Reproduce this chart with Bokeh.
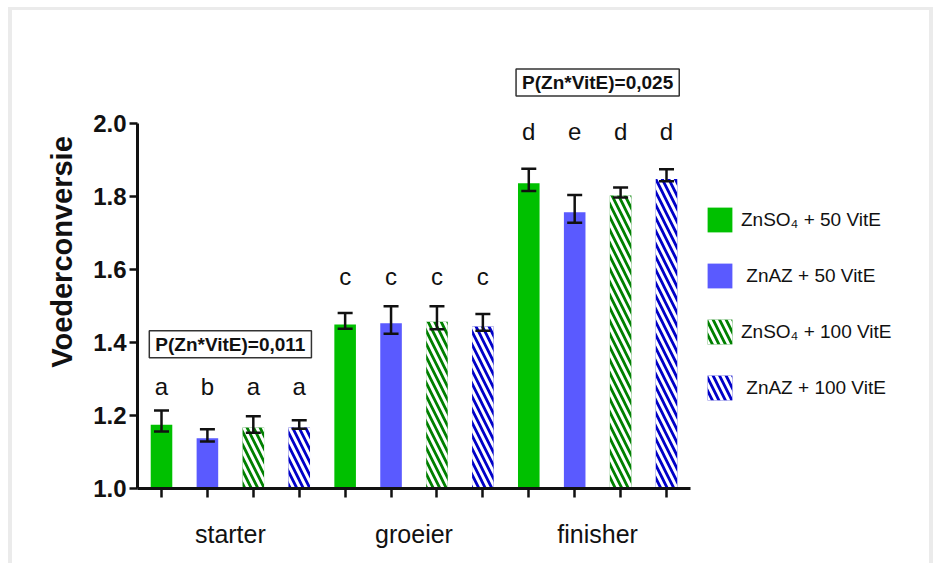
from bokeh.plotting import figure
from bokeh.models import (ColumnDataSource, FixedTicker, Whisker, TeeHead, Legend,
                          LegendItem, Label, Range1d, PrintfTickFormatter)
from bokeh.core.properties import value
from bokeh.embed import file_html
from bokeh.resources import INLINE

# ---------------- data ----------------
stages = ["starter", "groeier", "finisher"]
treatments = ["ZnSO\u2084 + 50 VitE", " ZnAZ + 50 VitE", "ZnSO\u2084 + 100 VitE", " ZnAZ + 100 VitE"]

mean_znso4_50 = [1.175, 1.449, 1.836]
mean_znaz_50 = [1.138, 1.453, 1.757]
mean_znso4_100 = [1.167, 1.457, 1.803]
mean_znaz_100 = [1.167, 1.444, 1.848]

upper_znso4_50 = [1.214, 1.481, 1.876]
upper_znaz_50 = [1.162, 1.499, 1.804]
upper_znso4_100 = [1.198, 1.499, 1.825]
upper_znaz_100 = [1.187, 1.478, 1.875]

lower_znso4_50 = [1.156, 1.438, 1.815]
lower_znaz_50 = [1.129, 1.424, 1.728]
lower_znso4_100 = [1.153, 1.436, 1.797]
lower_znaz_100 = [1.164, 1.432, 1.842]

letters_znso4_50 = ["a", "c", "d"]
letters_znaz_50 = ["b", "c", "e"]
letters_znso4_100 = ["a", "c", "d"]
letters_znaz_100 = ["a", "c", "d"]

p_interaction = ["P(Zn*VitE)=0,011", "P(Zn*VitE)=0,025"]

y_ticks = [1.0, 1.2, 1.4, 1.6, 1.8, 2.0]

# ---------------- assembly ----------------
means = [mean_znso4_50, mean_znaz_50, mean_znso4_100, mean_znaz_100]
uppers = [upper_znso4_50, upper_znaz_50, upper_znso4_100, upper_znaz_100]
lowers = [lower_znso4_50, lower_znaz_50, lower_znso4_100, lower_znaz_100]
letters = [letters_znso4_50, letters_znaz_50, letters_znso4_100, letters_znaz_100]

n_t = len(treatments)
n_s = len(stages)

FONT = "Liberation Sans"
PX = 45.91          # px per category slot
x0 = -24 / PX
x1 = x0 + 788 / PX
y1 = 1.0 + 473 / 365.0

p = figure(width=934, height=563, x_range=Range1d(x0, x1), y_range=Range1d(1.0, y1),
           output_backend="svg", toolbar_location=None,
           min_border_left=137, min_border_right=9, min_border_top=15, min_border_bottom=75)
p.xgrid.visible = False
p.ygrid.visible = False
p.outline_line_color = None
p.border_fill_color = None
p.background_fill_color = "white"
g = "linear-gradient(#EBEBEB,#EBEBEB)"
p.styles = {"background": f"{g} 8px 7px / 925px 3px no-repeat, "
                          f"{g} 8px 7px / 4px 556px no-repeat, "
                          f"{g} 929px 7px / 4px 556px no-repeat, white"}

styles = [
    dict(fill_color="#00C000"),
    dict(fill_color="#5A5AFF"),
    dict(fill_color="#008000", hatch_pattern="\\", hatch_color="white", hatch_weight=3, hatch_scale=13),
    dict(fill_color="#0000C8", hatch_pattern="\\", hatch_color="white", hatch_weight=3, hatch_scale=13),
]

renderers = []
wx, wu, wl = [], [], []
lx, ly, lt = [], [], []
group_max = [max(uppers[t][s] for t in range(n_t)) for s in range(n_s)]
for t in range(n_t):
    xs = [n_t * s + t for s in range(n_s)]
    src = ColumnDataSource(dict(x=xs, top=means[t]))
    r = p.vbar(x="x", top="top", bottom=1.0, width=0.47, line_color=None, source=src, **styles[t])
    renderers.append(r)
    wx += xs
    wu += uppers[t]
    wl += lowers[t]
    lx += xs
    ly += [group_max[s] * 1.055 for s in range(n_s)]
    lt += letters[t]

wsrc = ColumnDataSource(dict(x=wx, upper=wu, lower=wl))
whisk = Whisker(source=wsrc, base="x", upper="upper", lower="lower", line_width=2.5,
                line_color="#111111", level="overlay",
                upper_head=TeeHead(size=15, line_width=2.5, line_color="#111111"),
                lower_head=TeeHead(size=15, line_width=2.5, line_color="#111111"))
p.add_layout(whisk)

lsrc = ColumnDataSource(dict(x=lx, y=ly, text=lt))
p.text(x="x", y="y", text="text", source=lsrc, text_font=value(FONT), text_font_size="24px",
       text_align="center", text_baseline="alphabetic", text_color="#111111")

# interaction P-value boxes
box_pos = [(0, 1.395), (2, 2.112)]
for txt, (s, yy) in zip(p_interaction, box_pos):
    cx = n_t * s + (n_t - 1) / 2
    lab = Label(x=cx, y=yy, text=txt, text_font=FONT, text_font_size="19px", text_font_style="bold",
                text_align="center", text_baseline="middle", text_color="#111111",
                border_line_color="#333333", border_line_width=1.5,
                background_fill_color="white",
                padding=dict(left=6, right=6, top=3, bottom=3))
    p.add_layout(lab)

# y axis
ya = p.yaxis[0]
ya.ticker = FixedTicker(ticks=y_ticks, minor_ticks=[])
ya.formatter = PrintfTickFormatter(format="%.1f")
ya.bounds = (1.0, 2.0)
ya.axis_line_width = 3
ya.axis_line_color = "#111111"
ya.major_tick_line_width = 2.5
ya.major_tick_line_color = "#111111"
ya.major_tick_out = 8
ya.major_tick_in = 0
ya.major_label_standoff = 3
ya.major_label_text_font = FONT
ya.major_label_text_font_size = "24px"
ya.major_label_text_font_style = "bold"
ya.major_label_text_color = "#111111"
ya.axis_label = "Voederconversie"
ya.axis_label_text_font = FONT
ya.axis_label_text_font_size = "29px"
ya.axis_label_text_font_style = "bold"
ya.axis_label_text_color = "#111111"
ya.axis_label_standoff = 12

# x axis
xa = p.xaxis[0]
centers = [n_t * s + (n_t - 1) / 2 for s in range(n_s)]
xa.ticker = FixedTicker(ticks=centers, minor_ticks=list(range(n_t * n_s)))
xa.major_label_overrides = {c: name for c, name in zip(centers, stages)}
xa.bounds = (x0, n_t * n_s - 1 - x0)
xa.axis_line_width = 3
xa.axis_line_color = "#111111"
xa.major_tick_line_color = None
xa.major_tick_out = 0
xa.major_tick_in = 0
xa.minor_tick_line_color = "#111111"
xa.minor_tick_line_width = 2.5
xa.minor_tick_out = 9
xa.minor_tick_in = 0
xa.major_label_standoff = 22
xa.major_label_text_font = FONT
xa.major_label_text_font_size = "25px"
xa.major_label_text_color = "#111111"

legend = Legend(items=[LegendItem(label=treatments[t], renderers=[renderers[t]]) for t in range(n_t)],
                location=(567, 85), orientation="vertical",
                glyph_width=31, glyph_height=31, label_height=31, spacing=25,
                padding=0, margin=0, border_line_color=None, background_fill_alpha=0,
                label_text_font=FONT, label_text_font_size="19px", label_text_color="#111111",
                label_standoff=6)
p.add_layout(legend)

open("out.html", "w").write(file_html(p, INLINE))
